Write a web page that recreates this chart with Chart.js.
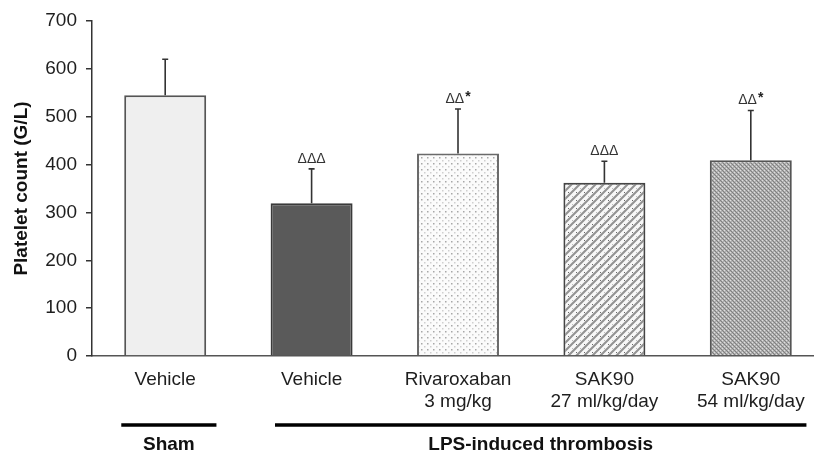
<!DOCTYPE html>
<html>
<head>
<meta charset="utf-8">
<script src="https://cdn.jsdelivr.net/npm/chart.js@4/dist/chart.umd.min.js"></script>
<style>
  html, body { margin: 0; padding: 0; background: #fff; overflow: hidden; }
  #wrap { width: 814px; height: 453px; overflow: hidden; }
</style>
</head>
<body>
<div id="wrap"><canvas id="c" width="830" height="453"></canvas></div>
<script>
// ---- data ----
const categories = [["Vehicle"], ["Vehicle"], ["Rivaroxaban", "3 mg/kg"], ["SAK90", "27 ml/kg/day"], ["SAK90", "54 ml/kg/day"]];
const plateletMeans = [545, 319, 423, 362, 409];
const plateletSD = [75, 72, 93, 45, 104];
const significance = ["", "\u0394\u0394\u0394", "\u0394\u0394", "\u0394\u0394\u0394", "\u0394\u0394"];
const starMarks = ["", "", "*", "", "*"];
const yTicks = [0, 100, 200, 300, 400, 500, 600, 700];
const groupNames = ["Sham", "LPS-induced thrombosis"];
const groupFirst = [0, 1];
const groupLast = [0, 4];

// ---- patterns ----
function makePattern(size, draw) {
  const c = document.createElement('canvas');
  c.width = size; c.height = size;
  const g = c.getContext('2d');
  draw(g, size);
  return g.createPattern(c, 'repeat');
}
const dotPattern = makePattern(6, (g, s) => {
  g.fillStyle = '#fbfbfb'; g.fillRect(0, 0, s, s);
  g.fillStyle = '#a8a8a8'; g.fillRect(1, 1, 1.5, 1.5);
  g.fillStyle = '#cfcfcf'; g.fillRect(4, 4, 1.5, 1.5);
});
const weavePattern = makePattern(8, (g, s) => {
  g.fillStyle = '#939393'; g.fillRect(0, 0, s, s);
  g.strokeStyle = '#f8f8f8'; g.lineWidth = 3.6;
  g.beginPath();
  g.moveTo(-2, s + 2); g.lineTo(s + 2, -2);
  g.moveTo(-2, 2); g.lineTo(2, -2);
  g.moveTo(s - 2, s + 2); g.lineTo(s + 2, s - 2);
  g.stroke();
  g.fillStyle = '#6a6a6a'; g.fillRect(0, 0, 1, 1);
  g.fillStyle = '#bdbdbd'; g.fillRect(4, 4, 1, 1);
});
const finePattern = makePattern(4, (g, s) => {
  g.fillStyle = '#b0b0b0'; g.fillRect(0, 0, s, s);
  g.fillStyle = '#808080';
  g.fillRect(0, 0, 1, 1); g.fillRect(1, 1, 1, 1); g.fillRect(2, 2, 1, 1); g.fillRect(3, 3, 1, 1);
  g.fillStyle = '#dedede';
  g.fillRect(2, 0, 1, 1); g.fillRect(0, 2, 1, 1);
});

const barFills = ['#efefef', '#5a5a5a', dotPattern, weavePattern, finePattern];
const barBorders = ['#555555', '#3a3a3a', '#6a6a6a', '#444444', '#555555'];

const FONT = "'Liberation Sans', Arial, sans-serif";

// ---- error bars + annotations + group lines ----
const extrasPlugin = {
  id: 'extras',
  afterDatasetsDraw(chart) {
    const ctx = chart.ctx;
    const x = chart.scales.x, y = chart.scales.y;
    ctx.save();
    plateletMeans.forEach((v, i) => {
      const px = x.getPixelForValue(i);
      const top = y.getPixelForValue(v + plateletSD[i]);
      const base = y.getPixelForValue(v);
      ctx.strokeStyle = '#333';
      ctx.lineWidth = 1.6;
      ctx.beginPath();
      ctx.moveTo(px, base); ctx.lineTo(px, top);
      ctx.moveTo(px - 3, top); ctx.lineTo(px + 3, top);
      ctx.stroke();
      if (significance[i]) {
        ctx.font = `14px ${FONT}`;
        ctx.fillStyle = '#333';
        ctx.textBaseline = 'alphabetic';
        const w1 = ctx.measureText(significance[i]).width;
        ctx.font = `bold 14px ${FONT}`;
        const w2 = starMarks[i] ? ctx.measureText(starMarks[i]).width + 1 : 0;
        const start = px - (w1 + w2) / 2;
        ctx.font = `14px ${FONT}`;
        ctx.textAlign = 'left';
        ctx.fillText(significance[i], start, top - 6);
        if (starMarks[i]) {
          ctx.font = `bold 14px ${FONT}`;
          ctx.fillStyle = '#222';
          ctx.fillText(starMarks[i], start + w1 + 1, top - 8);
        }
      }
    });
    // group lines
    const cw = x.getPixelForValue(1) - x.getPixelForValue(0);
    const lineY = 425;
    groupNames.forEach((name, gi) => {
      const x0 = x.getPixelForValue(groupFirst[gi]) - (gi === 0 ? 0.3 : 0.25) * cw;
      const x1 = x.getPixelForValue(groupLast[gi]) + (gi === 0 ? 0.35 : 0.38) * cw;
      ctx.strokeStyle = '#000';
      ctx.lineWidth = 3.5;
      ctx.beginPath();
      ctx.moveTo(x0, lineY); ctx.lineTo(x1, lineY);
      ctx.stroke();
      ctx.font = `bold 19px ${FONT}`;
      ctx.fillStyle = '#111';
      ctx.textAlign = 'center';
      ctx.textBaseline = 'middle';
      ctx.fillText(name, (x0 + x1) / 2, 445);
    });
    ctx.restore();
  }
};

new Chart(document.getElementById('c'), {
  type: 'bar',
  data: {
    labels: categories,
    datasets: [{
      data: plateletMeans,
      backgroundColor: barFills,
      borderColor: barBorders,
      borderWidth: 2,
      borderSkipped: 'bottom',
      barPercentage: 0.56,
      categoryPercentage: 1.0
    }]
  },
  options: {
    responsive: false,
    animation: false,
    devicePixelRatio: 1,
    layout: { padding: { top: 21, right: 6, left: 0, bottom: 0 } },
    plugins: { legend: { display: false }, tooltip: { enabled: false } },
    scales: {
      x: {
        grid: { display: true, drawOnChartArea: false, drawTicks: false },
        border: { display: true, color: '#555', width: 1.5 },
        ticks: {
          color: '#1e1e1e',
          font: { family: FONT, size: 19, lineHeight: 1.16 },
          padding: 13,
          maxRotation: 0,
          autoSkip: false
        },
        afterFit(scale) { scale.height = 97; }
      },
      y: {
        min: 0, max: 700,
        afterBuildTicks(scale) { scale.ticks = yTicks.map(v => ({ value: v })); },
        grid: { display: true, drawOnChartArea: false, drawTicks: true, tickLength: 6, color: '#333', lineWidth: 1.5 },
        border: { display: true, color: '#333', width: 1.5 },
        ticks: {
          color: '#1e1e1e',
          font: { family: FONT, size: 19 },
          padding: 9
        },
        title: {
          display: true,
          text: 'Platelet count (G/L)',
          color: '#111',
          font: { family: FONT, size: 19, weight: 'bold' },
          padding: { top: 10, bottom: 0 }
        },
        afterFit(scale) { scale.width = 92; }
      }
    }
  },
  plugins: [extrasPlugin]
});
</script>
</body>
</html>
